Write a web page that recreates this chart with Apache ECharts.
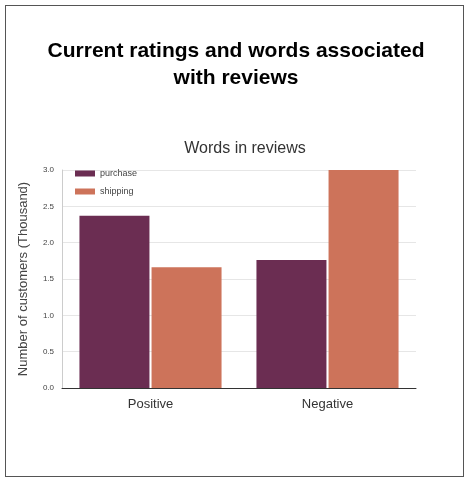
<!DOCTYPE html>
<html><head><meta charset="utf-8">
<script src="https://cdn.jsdelivr.net/npm/echarts@6/dist/echarts.min.js"></script>
<style>body{margin:0;background:#fff}#box{position:absolute;left:5px;top:5px;width:459px;height:472px;border:1px solid #555;box-sizing:border-box}#c{position:absolute;left:0;top:0;width:472px;height:487px}</style>
</head><body><div id="box"></div><div id="c"></div>
<script>
const categories = ['Positive', 'Negative'];
const purchase = [2.37, 1.76];
const shipping = [1.66, 3.0];
const yTicks = ['0.0','0.5','1.0','1.5','2.0','2.5','3.0'];
const chart = echarts.init(document.getElementById('c'));
chart.setOption({
  animation:false,
  title:[{text:'Current ratings and words associated\nwith reviews',left:'center',top:33,textStyle:{fontFamily:'Liberation Sans',fontSize:21,fontWeight:'bold',color:'#000',lineHeight:27}},
         {text:'Words in reviews',left:240,textAlign:'center',top:136,textStyle:{fontFamily:'Liberation Sans',fontSize:16,fontWeight:'normal',color:'#333'}}],
  legend:{left:70,top:164,orient:'vertical',itemWidth:20,itemHeight:6,itemGap:9,icon:'rect',textStyle:{fontSize:9,color:'#444',fontFamily:'Liberation Sans'}},
  grid:{left:62,right:56,top:170,bottom:99},
  xAxis:{type:'category',data:categories,axisTick:{show:false},axisLine:{lineStyle:{color:'#333'}},axisLabel:{fontSize:13,color:'#333',margin:10,fontFamily:'Liberation Sans'}},
  yAxis:{type:'value',min:0,max:3,interval:0.5,name:'Number of customers (Thousand)',nameLocation:'middle',nameGap:32,nameTextStyle:{fontSize:13,color:'#444',fontFamily:'Liberation Sans'},
    axisLine:{show:true,lineStyle:{color:'#ccc'}},axisTick:{show:false},
    axisLabel:{fontSize:8,color:'#444',formatter:v=>yTicks[Math.round(v*2)]},splitLine:{lineStyle:{color:'#e6e6e6'}}},
  series:[
    {name:'purchase',type:'bar',data:purchase,barWidth:70,barGap:'3%',itemStyle:{color:'#6b2d52'}},
    {name:'shipping',type:'bar',data:shipping,barWidth:70,itemStyle:{color:'#cd735a'}}
  ]
});
</script></body></html>
